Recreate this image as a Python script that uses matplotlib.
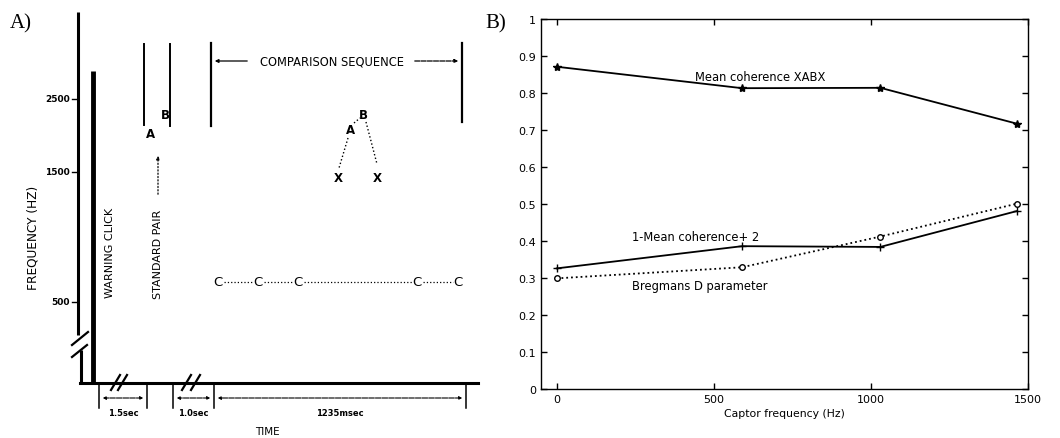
import numpy as np
import matplotlib
matplotlib.use("Agg")
from matplotlib import pyplot as plt

# ---- panel B data ----
captor_freq = [0, 590, 1030, 1465]
mean_coh_xabx = [0.871, 0.813, 0.814, 0.717]
one_minus_coh = [0.326, 0.386, 0.384, 0.481]
bregman_d = [0.299, 0.329, 0.412, 0.501]
y_ticks = [0, 0.1, 0.2, 0.3, 0.4, 0.5, 0.6, 0.7, 0.8, 0.9, 1]
y_tick_labels = ["0", "0.1", "0.2", "0.3", "0.4", "0.5", "0.6", "0.7", "0.8", "0.9", "1"]
x_ticks = [0, 500, 1000, 1500]

# ---- panel A schematic (diagram units) ----
freq_tick_pos = [100, 173, 303]
freq_tick_labels = ["2500", "1500", "500"]
time_marks = [99, 147, 173, 214, 466]
interval_labels = ["1.5sec", "1.0sec", "1235msec"]
interval_spans = [(99, 147), (173, 214), (214, 466)]
c_positions = [218, 258, 298, 417, 458]

W, H = 1060, 439
fig = plt.figure(figsize=(W / 100, H / 100), dpi=100)

# ================= Panel A =================
axA = fig.add_axes([0, 0, 520 / W, 1])
axA.set_xlim(0, 520)
axA.set_ylim(H, 0)
axA.axis("off")
k = "black"
sans = "DejaVu Sans"

# frequency axis with break
axA.plot([78, 78], [13, 336], color=k, lw=2.2, solid_capstyle="butt")
axA.plot([81, 81], [351, 384], color=k, lw=2.2, solid_capstyle="butt")
axA.plot([72, 88], [346, 333], color=k, lw=1.6)
axA.plot([72, 87], [358, 346], color=k, lw=1.6)
for p, lab in zip(freq_tick_pos, freq_tick_labels):
    axA.plot([72, 78], [p, p], color=k, lw=1.0)
    axA.text(70, p, lab, ha="right", va="center", fontsize=6.5,
             family=sans, weight="bold")
axA.text(33, 238, "FREQUENCY (HZ)", rotation=90, ha="center", va="center",
         fontsize=8.7, family=sans)

# time axis with breaks
axA.plot([80, 478], [384, 384], color=k, lw=2.2)
for x0 in [111, 118, 182, 191]:
    axA.plot([x0, x0 + 9], [391, 376], color=k, lw=1.6)

# warning click
axA.plot([93, 93], [72, 384], color=k, lw=3.5, solid_capstyle="butt")
axA.text(110, 253, "WARNING CLICK", rotation=90, ha="center", va="center",
         fontsize=8, family=sans)

# standard pair
axA.plot([144, 144], [45, 126], color=k, lw=1.4)
axA.plot([170, 170], [45, 127], color=k, lw=1.4)
axA.text(151, 135, "A", ha="center", va="center", fontsize=8.5, family=sans,
         weight="bold")
axA.text(165, 116, "B", ha="center", va="center", fontsize=8.5, family=sans,
         weight="bold")
axA.annotate("", xy=(158, 154), xytext=(158, 198),
             arrowprops=dict(arrowstyle="-|>", color=k, lw=0.9, linestyle=":",
                             mutation_scale=5))
axA.text(158, 254, "STANDARD PAIR", rotation=90, ha="center", va="center",
         fontsize=8, family=sans)

# comparison sequence
axA.plot([211, 211], [44, 127], color=k, lw=1.6)
axA.plot([462, 462], [44, 123], color=k, lw=1.6)
axA.annotate("", xy=(212, 62), xytext=(250, 62),
             arrowprops=dict(arrowstyle="-|>", color=k, lw=0.9, mutation_scale=5))
axA.annotate("", xy=(461, 62), xytext=(412, 62),
             arrowprops=dict(arrowstyle="-|>", color=k, lw=0.9, linestyle=(0, (4, 1)),
                             mutation_scale=5))
axA.text(332, 62, "COMPARISON SEQUENCE", ha="center", va="center",
         fontsize=8.3, family=sans)

# A B X X
axA.text(363, 116, "B", ha="center", va="center", fontsize=8.5, family=sans,
         weight="bold")
axA.text(350, 131, "A", ha="center", va="center", fontsize=8.5, family=sans,
         weight="bold")
axA.text(338, 179, "X", ha="center", va="center", fontsize=8.5, family=sans,
         weight="bold")
axA.text(377, 179, "X", ha="center", va="center", fontsize=8.5, family=sans,
         weight="bold")
axA.plot([354, 360], [124, 119], color=k, lw=1.0, ls=":")
axA.plot([348, 339], [139, 169], color=k, lw=1.0, ls=":")
axA.plot([366, 377], [123, 165], color=k, lw=1.0, ls=":")

# C tones
for i, cx in enumerate(c_positions):
    axA.text(cx, 283, "C", ha="center", va="center", fontsize=9.5, family=sans)
    if i + 1 < len(c_positions):
        axA.plot([cx + 6, c_positions[i + 1] - 5], [283, 283], color=k,
                 lw=0.9, ls=":")

# time intervals
for tx in time_marks:
    axA.plot([tx, tx], [384, 409], color=k, lw=1.1)
for (a, b), lab in zip(interval_spans, interval_labels):
    axA.annotate("", xy=(a + 1, 399), xytext=(b - 1, 399),
                 arrowprops=dict(arrowstyle="<|-|>", color=k, lw=0.8,
                                 linestyle=(0, (5, 1)), mutation_scale=4))
    axA.text((a + b) / 2, 414, lab, ha="center", va="center", fontsize=6,
             family=sans, weight="bold")
axA.text(267, 432, "TIME", ha="center", va="center", fontsize=7.5, family=sans)

fig.text(10 / W, 1 - 24 / H, "A)", ha="left", va="center", fontsize=15,
         family="Liberation Serif")

# ================= Panel B =================
axB = fig.add_axes([541 / W, (H - 390) / H, (1028 - 541) / W, 370 / H])
axB.plot(captor_freq, mean_coh_xabx, color=k, lw=1.3, marker="*", ms=6)
axB.plot(captor_freq, one_minus_coh, color=k, lw=1.3, marker="+", ms=6)
axB.plot(captor_freq, bregman_d, color=k, lw=1.3, ls=":", marker="o", ms=4,
         mfc="white")
axB.text(648, 0.845, "Mean coherence XABX", ha="center", va="center",
         fontsize=8.3)
axB.text(240, 0.413, "1-Mean coherence+ 2", ha="left", va="center",
         fontsize=8.3)
axB.text(240, 0.281, "Bregmans D parameter", ha="left", va="center",
         fontsize=8.3)
axB.set_xlim(-50, 1500)
axB.set_ylim(0, 1)
axB.set_xticks(x_ticks)
axB.set_yticks(y_ticks)
axB.set_yticklabels(y_tick_labels)
axB.tick_params(direction="in", top=True, right=True, labelsize=8,
                length=4, width=1)
axB.set_xlabel("Captor frequency (Hz)", fontsize=7.8, labelpad=3)
for s in axB.spines.values():
    s.set_linewidth(1.0)

fig.text(485 / W, 1 - 24 / H, "B)", ha="left", va="center", fontsize=15,
         family="Liberation Serif")

fig.savefig("out.png", dpi=100)
